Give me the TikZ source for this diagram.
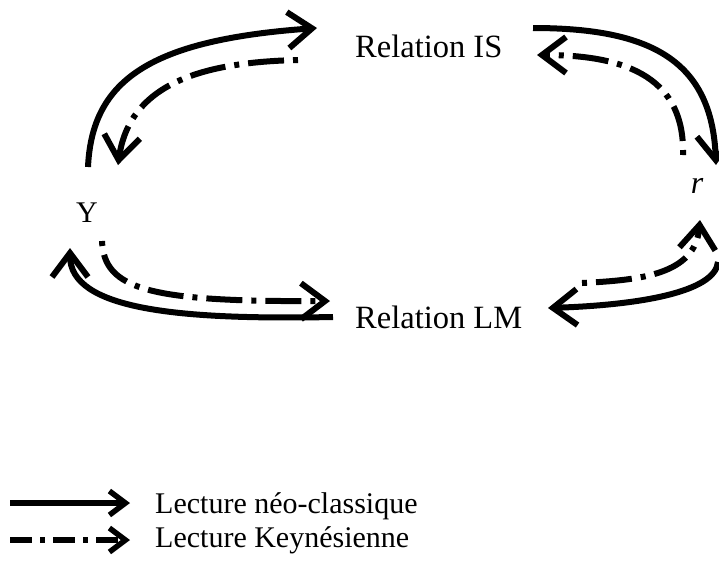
\documentclass[tikz,border=0pt]{standalone}
\usepackage{fontspec}
\setmainfont{Liberation Serif}
\usetikzlibrary{arrows.meta}
\usetikzlibrary{positioning}

\begin{document}
\begin{tikzpicture}[x=1pt,y=-1pt,
  neo/.style={line width=6pt,-{Straight Barb[length=24pt,width=36pt,line width=6pt]}},
  keyn/.style={neo,dash pattern=on 5pt off 9pt on 36pt off 9pt},
  neolg/.style={line width=5.5pt,-{Straight Barb[length=16pt,width=24pt,line width=5.5pt]}},
  keynlg/.style={neolg,dash pattern=on 22pt off 8pt on 5pt off 8pt},
  lbl/.style={inner sep=0pt,font=\fontsize{32.5}{40}\selectfont}]
  \useasboundingbox (0,0) rectangle (719,566);

  % les quatre variables
  \node[lbl,anchor=base west] (is) at (355,57) {Relation IS};
  \node[lbl,anchor=base west] (lm) at (355,328) {Relation LM};
  \node[lbl,font=\fontsize{30}{36}\selectfont] (y) at (87,213) {Y};
  \node[lbl,font=\fontsize{32}{36}\selectfont\itshape] (r) at (697,186) {r};

  % extremites des fleches
  \coordinate (y-a) at (88,167);   \coordinate (is-a) at (317,28);
  \coordinate (is-b) at (298,60);  \coordinate (y-b) at (118,165);
  \coordinate (is-c) at (533,28);  \coordinate (r-c) at (716,165);
  \coordinate (r-d) at (683,155);  \coordinate (is-d) at (537,55);
  \coordinate (r-e) at (718,262);  \coordinate (lm-e) at (548,308);
  \coordinate (lm-f) at (582,283); \coordinate (r-f) at (700,220);
  \coordinate (lm-g) at (333,317); \coordinate (y-g) at (70,248);
  \coordinate (y-h) at (102,241);  \coordinate (lm-h) at (330,301);

  % lecture neo-classique
  \draw[neo] (y-a) .. controls (92,80) and (150,40) .. (is-a);
  \draw[neo] (is-c) .. controls (650,28) and (712,60) .. (r-c);
  \draw[neo] (r-e) .. controls (715,292) and (640,305) .. (lm-e);
  \draw[neo] (lm-g) .. controls (180,320) and (70,310) .. (y-g);

  % lecture keynesienne
  \draw[keyn] (is-b) .. controls (210,62) and (130,80) .. (y-b);
  \draw[keyn] (r-d) .. controls (685,80) and (630,55) .. (is-d);
  \draw[keyn] (lm-f) .. controls (640,280) and (695,275) .. (r-f);
  \draw[keyn] (y-h) .. controls (104,290) and (150,302) .. (lm-h);

  % legende
  \node[inner sep=0pt,anchor=base west,font=\fontsize{30}{36}\selectfont] (neo-txt) at (155,513) {Lecture néo-classique};
  \node[inner sep=0pt,anchor=base west,font=\fontsize{30}{36}\selectfont] (keyn-txt) at (155,547) {Lecture Keynésienne};
  \coordinate (neo-s) at (10,503);
  \coordinate (keyn-s) at (10,540);
  \draw[neolg] (neo-s) -- (neo-s -| 130,0);
  \draw[keynlg] (keyn-s) -- (keyn-s -| 130,0);
\end{tikzpicture}
\end{document}
